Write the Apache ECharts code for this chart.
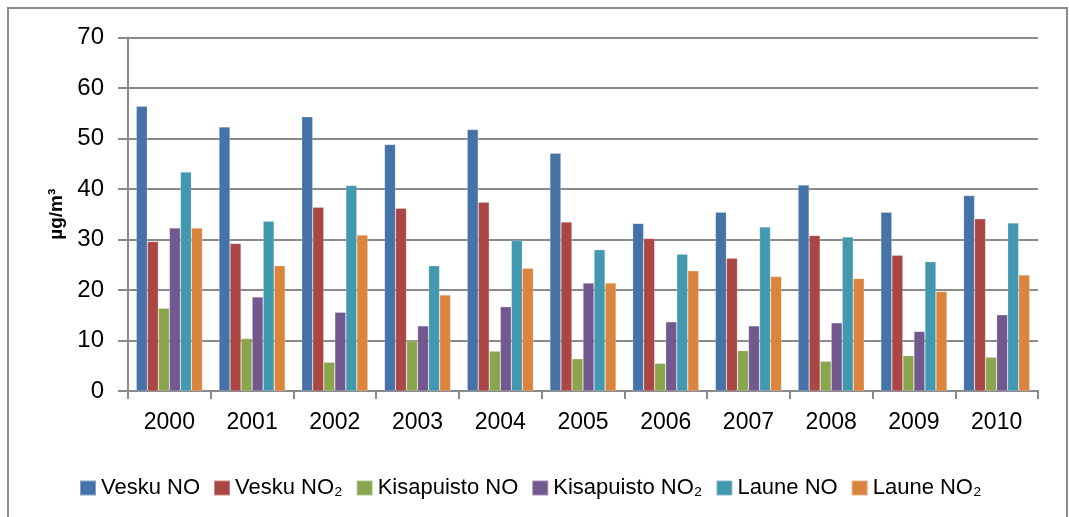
<!DOCTYPE html>
<html>
<head>
<meta charset="utf-8">
<script src="https://cdn.jsdelivr.net/npm/echarts@6/dist/echarts.min.js"></script>
<style>
html,body{margin:0;padding:0;background:#fff;}
#chart{width:1069px;height:517px;}
</style>
</head>
<body>
<div id="chart"></div>
<script>
var years = ['2000','2001','2002','2003','2004','2005','2006','2007','2008','2009','2010'];
var seriesNames = ['Vesku NO','Vesku NO₂','Kisapuisto NO','Kisapuisto NO₂','Laune NO','Laune NO₂'];
var veskuNO     = [56.4, 52.3, 54.3, 48.8, 51.8, 47.1, 33.2, 35.4, 40.8, 35.4, 38.7];
var veskuNO2    = [29.6, 29.2, 36.4, 36.2, 37.4, 33.5, 30.2, 26.3, 30.8, 26.9, 34.1];
var kisapuistoNO  = [16.4, 10.4, 5.7, 10.0, 7.9, 6.4, 5.5, 8.0, 5.9, 7.0, 6.7];
var kisapuistoNO2 = [32.3, 18.6, 15.6, 12.9, 16.7, 21.4, 13.7, 12.9, 13.5, 11.8, 15.1];
var launeNO     = [43.4, 33.6, 40.7, 24.8, 29.8, 28.0, 27.1, 32.5, 30.5, 25.6, 33.3];
var launeNO2    = [32.3, 24.8, 30.9, 19.0, 24.3, 21.4, 23.8, 22.7, 22.3, 19.7, 23.0];
var yTicks = [0, 10, 20, 30, 40, 50, 60, 70];
var yTitle = 'µg/m³';

var colors = ['#4572A7','#AA4643','#89A54E','#71588F','#4198AF','#DB843D'];
var allData = [veskuNO, veskuNO2, kisapuistoNO, kisapuistoNO2, launeNO, launeNO2];

var chart = echarts.init(document.getElementById('chart'), null, {renderer:'canvas'});
var gridColor = '#8a8a8a';
var font = '"Liberation Sans", Arial, sans-serif';

var series = allData.map(function(d, i){
  return {
    name: seriesNames[i],
    type: 'bar',
    data: d,
    barGap: '0%',
    barCategoryGap: '20%',
    itemStyle: {color: colors[i], borderColor: 'rgba(255,255,255,0.35)', borderWidth: 0.6},
    animation: false
  };
});

chart.setOption({
  animation: false,
  color: colors,
  graphic: [{
    type: 'rect',
    shape: {x: 8, y: 8, width: 1059, height: 530},
    style: {fill: 'none', stroke: '#8c8c8c', lineWidth: 2},
    silent: true
  }],
  grid: {left: 128, right: 31, top: 37.5, bottom: 126, containLabel: false},
  legend: {
    data: seriesNames,
    left: 74,
    top: 472,
    itemWidth: 16,
    itemHeight: 15,
    itemGap: 13,
    icon: 'rect',
    textStyle: {fontFamily: font, fontSize: 22, color: '#000'}
  },
  xAxis: {
    type: 'category',
    data: years,
    axisLine: {show: true, lineStyle: {color: gridColor, width: 2}},
    axisTick: {show: true, length: 8, lineStyle: {color: gridColor, width: 2}},
    axisLabel: {fontFamily: font, fontSize: 23, color: '#000', margin: 20}
  },
  yAxis: {
    type: 'value',
    min: yTicks[0],
    max: yTicks[yTicks.length-1],
    interval: 10,
    name: yTitle,
    nameLocation: 'middle',
    nameGap: 60,
    nameRotate: 90,
    nameTextStyle: {fontFamily: font, fontSize: 19, fontWeight: 'bold', color: '#000'},
    axisLine: {show: true, lineStyle: {color: gridColor, width: 2}},
    axisTick: {show: true, inside: false, length: 10, lineStyle: {color: gridColor, width: 2}},
    axisLabel: {fontFamily: font, fontSize: 24, color: '#000', margin: 24},
    splitLine: {show: true, lineStyle: {color: gridColor, width: 2}}
  },
  series: series
});
</script>
</body>
</html>
